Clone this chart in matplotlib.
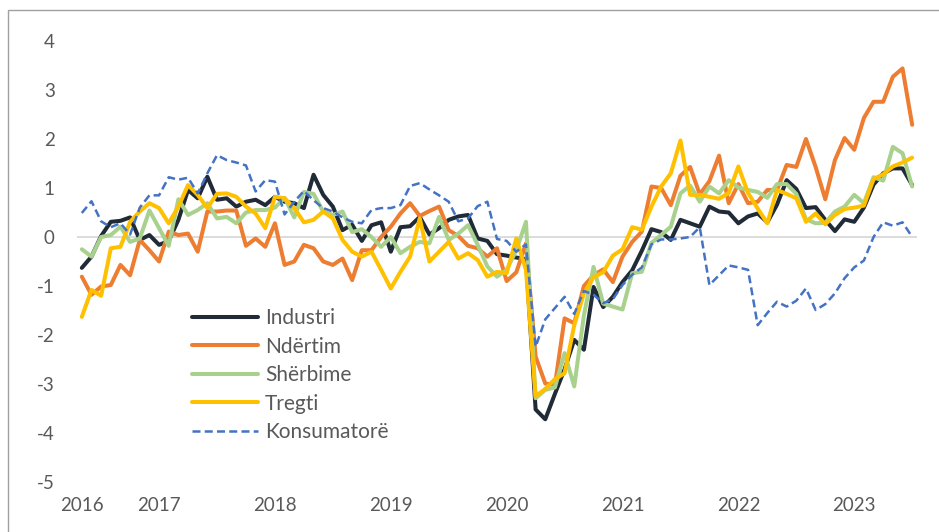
# -*- coding: utf-8 -*-

'''
    Indekset e besimit sipas sektoreve, 2016-2023 (te dhena mujore)
'''

import matplotlib
matplotlib.use("Agg")
import matplotlib.pyplot as plt
from matplotlib.patches import Rectangle

plt.rcParams['font.family'] = ['Lato', 'DejaVu Sans']
plt.rcParams['axes.unicode_minus'] = False

# muajt: maj 2016 - korrik 2023
months = list(range(87))
tickPos = [0, 8, 20, 32, 44, 56, 68, 80]
tickLabels = ["2016", "2017", "2018", "2019", "2020", "2021", "2022", "2023"]

industri = [-0.63, -0.40, 0.02, 0.31, 0.33, 0.40, -0.06, 0.04, -0.16, -0.08,
            0.35, 0.96, 0.79, 1.23, 0.76, 0.79, 0.62, 0.72, 0.76, 0.65,
            0.82, 0.72, 0.69, 0.59, 1.27, 0.86, 0.62, 0.14, 0.25, -0.08,
            0.24, 0.30, -0.30, 0.20, 0.22, 0.41, 0.05, 0.18, 0.35, 0.42,
            0.45, -0.03, -0.08, -0.35, -0.38, -0.42, -0.45, -3.52, -3.72, -3.20,
            -2.70, -2.10, -2.30, -1.02, -1.43, -1.22, -0.92, -0.68, -0.28, 0.16,
            0.10, -0.06, 0.35, 0.28, 0.21, 0.62, 0.52, 0.50, 0.28, 0.42,
            0.48, 0.30, 0.66, 1.16, 0.98, 0.59, 0.61, 0.35, 0.12, 0.36,
            0.31, 0.60, 1.07, 1.30, 1.40, 1.40, 1.06]

ndertim = [-0.81, -1.18, -1.01, -0.98, -0.57, -0.78, -0.06, -0.27, -0.50, 0.11,
           0.04, 0.07, -0.30, 0.52, 0.52, 0.54, 0.54, -0.18, -0.03, -0.20,
           0.28, -0.57, -0.50, -0.16, -0.23, -0.50, -0.57, -0.44, -0.88, -0.27,
           -0.27, 0.00, 0.21, 0.48, 0.69, 0.43, 0.53, 0.62, 0.14, 0.02,
           -0.18, -0.23, -0.40, -0.23, -0.90, -0.72, -0.13, -2.44, -2.99, -3.02,
           -1.66, -1.76, -1.00, -0.78, -0.66, -0.92, -0.40, -0.10, 0.11, 1.03,
           1.00, 0.65, 1.25, 1.43, 0.87, 1.14, 1.66, 0.69, 1.08, 0.69,
           0.72, 0.96, 0.96, 1.47, 1.43, 2.00, 1.43, 0.77, 1.57, 2.02,
           1.78, 2.43, 2.76, 2.76, 3.27, 3.44, 2.29]

sherbime = [-0.25, -0.40, 0.00, 0.04, 0.21, -0.10, -0.03, 0.54, 0.18, -0.18,
            0.77, 0.45, 0.55, 0.69, 0.38, 0.41, 0.28, 0.50, 0.55, 0.55,
            0.60, 0.80, 0.40, 0.92, 0.88, 0.52, 0.45, 0.52, 0.10, 0.16,
            0.00, -0.20, 0.00, -0.33, -0.20, -0.10, -0.13, 0.41, -0.06, 0.07,
            0.24, -0.16, -0.60, -0.81, -0.67, -0.27, 0.31, -3.29, -3.12, -3.07,
            -2.37, -3.05, -1.60, -0.61, -1.36, -1.42, -1.48, -0.74, -0.71, -0.12,
            0.04, 0.21, 0.89, 1.05, 0.72, 1.03, 0.89, 1.16, 1.01, 0.96,
            0.92, 0.80, 1.08, 1.08, 0.88, 0.36, 0.28, 0.29, 0.52, 0.62,
            0.86, 0.69, 1.22, 1.15, 1.84, 1.71, 1.03]

tregti = [-1.63, -1.08, -1.20, -0.23, -0.20, 0.31, 0.52, 0.69, 0.59, 0.28,
          0.62, 1.06, 0.86, 0.59, 0.88, 0.89, 0.82, 0.62, 0.48, 0.18,
          0.82, 0.79, 0.59, 0.30, 0.35, 0.52, 0.38, -0.06, -0.30, -0.40,
          -0.30, -0.67, -1.05, -0.71, -0.40, 0.38, -0.50, -0.30, -0.10, -0.44,
          -0.33, -0.47, -0.81, -0.71, -0.74, -0.03, -0.67, -3.25, -3.10, -2.90,
          -2.78, -1.80, -1.15, -0.82, -0.72, -0.38, -0.25, 0.20, 0.15, 0.62,
          1.03, 1.30, 1.97, 0.86, 0.86, 0.82, 0.78, 0.90, 1.44, 0.90,
          0.58, 0.28, 0.96, 0.88, 0.79, 0.31, 0.48, 0.26, 0.45, 0.57,
          0.60, 0.64, 1.18, 1.28, 1.44, 1.52, 1.62]

konsumatore = [0.49, 0.73, 0.32, 0.20, 0.28, 0.05, 0.60, 0.85, 0.85, 1.22,
               1.17, 1.21, 0.89, 1.30, 1.67, 1.57, 1.52, 1.46, 0.93, 1.16,
               1.13, 0.46, 0.72, 0.94, 0.75, 0.59, 0.52, 0.40, 0.31, 0.28,
               0.55, 0.59, 0.59, 0.65, 1.04, 1.10, 0.97, 0.85, 0.72, 0.32,
               0.38, 0.63, 0.72, -0.04, -0.08, -0.30, -0.15, -2.24, -1.68, -1.45,
               -1.22, -1.57, -1.10, -1.18, -1.35, -1.27, -0.98, -0.77, -0.62, -0.15,
               -0.05, -0.05, -0.03, 0.00, 0.20, -0.98, -0.78, -0.58, -0.62, -0.67,
               -1.80, -1.55, -1.32, -1.42, -1.30, -1.05, -1.49, -1.37, -1.15, -0.84,
               -0.62, -0.48, 0.00, 0.30, 0.23, 0.30, 0.00]

textColor = "#595959"

fig = plt.figure(figsize=(9.39, 5.32), dpi=100)

# korniza e grafikut (vetem majtas dhe lart duken)
fig.patches.append(Rectangle((8 / 939, -0.2), 1.2, 1.2 - 10 / 532,
                             transform=fig.transFigure, fill=False,
                             edgecolor="#a0a0a0", linewidth=1.0))

ax = fig.add_axes([77 / 939, 1 - 482 / 532, 840 / 939, 441 / 532])

ax.axhline(0, color="#d9d9d9", linewidth=1.3, zorder=1)

style = dict(linewidth=2.9, solid_joinstyle="round", solid_capstyle="round")
ax.plot(months, industri, color="#212b38", label="Industri", **style)
ax.plot(months, ndertim, color="#ed7d31", label="Ndërtim", **style)
ax.plot(months, sherbime, color="#a9d18e", label="Shërbime", **style)
ax.plot(months, tregti, color="#ffc000", label="Tregti", **style)
ax.plot(months, konsumatore, color="#4472c4", label="Konsumatorë",
        linewidth=1.8, linestyle=(0, (3.2, 1.7)))

ax.set_xlim(-0.5, 86.5)
ax.set_ylim(-5, 4)
ax.set_yticks(range(-5, 5))
ax.set_xticks(tickPos)
ax.set_xticklabels(tickLabels)
ax.tick_params(axis="y", length=0, pad=16, labelsize=13.5, labelcolor=textColor)
ax.tick_params(axis="x", length=0, pad=11, labelsize=13.5, labelcolor=textColor)
for s in ax.spines.values():
    s.set_visible(False)

leg = ax.legend(loc="upper left", bbox_to_anchor=(192 / 939, 1 - 308 / 532),
                bbox_transform=fig.transFigure, frameon=False, fontsize=15,
                handlelength=3.17, handletextpad=0.34, labelspacing=0.41,
                borderpad=0, borderaxespad=0)
for t in leg.get_texts():
    t.set_color(textColor)

fig.savefig("out.png", dpi=100)
